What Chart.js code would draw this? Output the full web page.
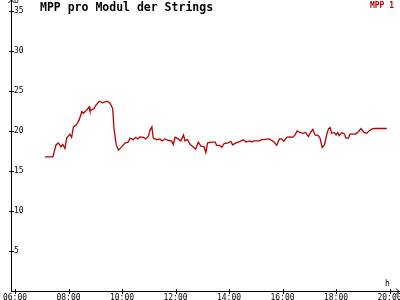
<!DOCTYPE html>
<html><head><meta charset="utf-8">
<script src="https://cdn.jsdelivr.net/npm/chart.js@4"></script>
<style>html,body{margin:0;padding:0;background:#fff}#wrap{width:400px;height:300px;position:relative}</style>
</head><body><div id="wrap"><canvas id="c" width="400" height="300"></canvas></div>
<script>
const chartTitle = "MPP pro Modul der Strings";
const seriesName = "MPP 1";
const yAxisUnit = "U";
const xAxisUnit = "h";
// time of day in minutes since midnight
const times = [427,445,452,457,463,467,472,476,483,487,
  491,498,504,510,513,521,526,528,537,542,
  549,557,566,573,579,582,587,592,599,607,
  614,618,625,631,635,640,648,653,659,663,
  667,670,678,685,690,696,704,711,715,719,
  726,732,738,741,747,753,760,765,771,777,
  784,788,792,801,809,812,818,824,829,838,
  844,848,856,865,872,878,886,891,895,908,
  913,921,930,936,941,947,953,958,963,969,
  977,983,988,993,999,1007,1012,1018,1024,1028,
  1033,1040,1044,1049,1054,1059,1063,1067,1070,1076,
  1080,1084,1087,1093,1099,1102,1108,1111,1119,1124,
  1130,1136,1143,1149,1154,1161,1167,1194];
const mpp1 = [16.75,16.75,18.25,18.5,18.0,18.3,17.8,19.1,19.6,19.2,
  20.5,20.8,21.4,22.4,22.2,22.6,23.0,22.5,22.8,23.25,
  23.7,23.5,23.7,23.5,22.8,20.3,18.25,17.6,18.0,18.5,
  18.6,19.1,18.9,19.2,19.0,19.25,19.2,19.0,19.3,20.1,
  20.5,19.1,18.9,19.0,18.75,19.0,18.8,18.75,18.3,19.2,
  19.0,18.75,19.5,18.75,18.9,18.3,18.0,17.7,18.6,18.1,
  18.0,17.3,18.5,18.6,18.6,18.2,18.2,17.95,18.4,18.5,
  18.7,18.25,18.5,18.7,18.9,18.6,18.75,18.6,18.75,18.75,
  18.9,18.95,19.0,18.8,18.6,18.2,19.0,19.0,18.7,19.2,
  19.25,19.2,19.5,20.0,19.8,19.7,19.8,19.3,19.9,20.2,
  19.5,19.4,19.1,17.95,18.25,19.5,20.25,20.4,19.7,19.8,
  19.5,19.8,19.4,19.8,19.6,19.1,19.1,19.6,19.6,19.6,
  19.9,20.3,19.8,19.7,20.0,20.25,20.3,20.3];
const xTickStep = 120, yTickStep = 5;
const xMin = 351, xMax = 1219, yMin = 0, yMax = 36.1;

const RED = '#bb0000';
const FONT = '"DejaVu Sans Mono", "Liberation Mono", monospace';

const decor = {
  id: 'decor',
  afterDraw(chart) {
    const ctx = chart.ctx, a = chart.chartArea;
    const xs = chart.scales.x, ys = chart.scales.y;
    ctx.save();
    ctx.strokeStyle = '#000'; ctx.lineWidth = 1;
    ctx.beginPath();
    ctx.moveTo(a.left + 0.5, a.bottom); ctx.lineTo(a.left + 0.5, 0);
    ctx.moveTo(a.left, a.bottom + 0.5); ctx.lineTo(400, a.bottom + 0.5);
    ctx.moveTo(a.left - 2.5, 3); ctx.lineTo(a.left + 0.5, 0); ctx.lineTo(a.left + 3.5, 3);
    ctx.moveTo(396, a.bottom - 2.5); ctx.lineTo(399, a.bottom + 0.5); ctx.lineTo(396, a.bottom + 3.5);
    ys.ticks.forEach(t => { if (t.value === 0) return; const y = Math.round(ys.getPixelForValue(t.value)) + 0.5; ctx.moveTo(a.left - 2, y); ctx.lineTo(a.left + 3, y); });
    xs.ticks.forEach(t => { const x = Math.round(xs.getPixelForValue(t.value)) + 0.5; ctx.moveTo(x, a.bottom - 2); ctx.lineTo(x, a.bottom + 3); });
    ctx.stroke();
    ctx.fillStyle = '#000';
    ctx.textBaseline = 'top';
    ctx.font = 'bold 11.5px ' + FONT;
    ctx.textAlign = 'left';
    ctx.fillText(chartTitle, 40, 2);
    ctx.font = '8px ' + FONT;
    ctx.fillText(yAxisUnit, a.left + 3, -3);
    ctx.fillText(xAxisUnit, 385, 280);
    ctx.fillStyle = RED;
    ctx.font = 'bold 8px ' + FONT;
    ctx.textAlign = 'right';
    ctx.fillText(seriesName, 394, 2);
    ctx.restore();
  }
};

new Chart(document.getElementById('c'), {
  type: 'line',
  data: {
    datasets: [{
      label: seriesName,
      data: times.map((t, i) => ({x: t, y: mpp1[i]})),
      borderColor: RED,
      borderWidth: 1.3,
      pointRadius: 0,
      tension: 0,
      fill: false
    }]
  },
  options: {
    responsive: false,
    animation: false,
    layout: {padding: {top: 2, right: 2, left: 0, bottom: 0}},
    plugins: {legend: {display: false}, title: {display: false}, tooltip: {enabled: false}},
    scales: {
      x: {
        type: 'linear', min: xMin, max: xMax,
        border: {display: false},
        grid: {display: false, drawTicks: false},
        ticks: {
          stepSize: xTickStep, includeBounds: false, autoSkip: false, maxRotation: 0,
          padding: 2, color: '#000', font: {family: FONT, size: 8},
          callback: v => String(Math.floor(v / 60)).padStart(2, '0') + ':' + String(v % 60).padStart(2, '0')
        },
        afterFit: s => { s.height = 9; s.paddingLeft = 0; s.paddingRight = 0; }
      },
      y: {
        min: yMin, max: yMax,
        border: {display: false},
        grid: {display: false, drawTicks: false},
        ticks: {
          stepSize: yTickStep, includeBounds: false, mirror: true, padding: 3,
          color: '#000', font: {family: FONT, size: 8},
          callback: v => v === 0 ? '' : String(v)
        },
        afterFit: s => { s.width = 11; s.paddingTop = 0; s.paddingBottom = 0; }
      }
    }
  },
  plugins: [decor]
});
</script></body></html>
